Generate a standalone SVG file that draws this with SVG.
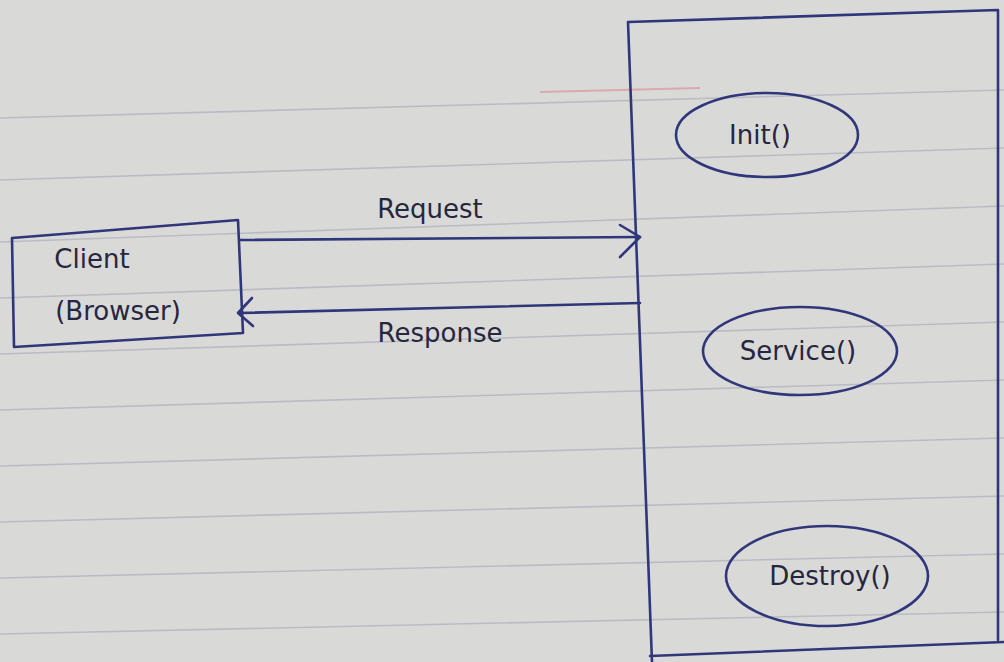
<svg xmlns="http://www.w3.org/2000/svg" width="1004" height="662" viewBox="0 0 1004 662">
<style>
.ink{fill:none;stroke:#30367a;stroke-width:2.6;stroke-linecap:round;stroke-linejoin:round}
.rule{stroke:#b9bcc3;stroke-width:1.6}
.lbl{font-family:"DejaVu Sans","Liberation Sans",sans-serif;fill:#26263f;font-size:26px}
</style>
<rect width="1004" height="662" fill="#d9d9d7"/>
<g id="paper-rules">
<line class="rule" x1="0" y1="118" x2="1004" y2="90"/>
<line class="rule" x1="0" y1="180" x2="1004" y2="148"/>
<line class="rule" x1="0" y1="242" x2="1004" y2="206"/>
<line class="rule" x1="0" y1="298" x2="1004" y2="264"/>
<line class="rule" x1="0" y1="354" x2="1004" y2="322"/>
<line class="rule" x1="0" y1="410" x2="1004" y2="380"/>
<line class="rule" x1="0" y1="466" x2="1004" y2="438"/>
<line class="rule" x1="0" y1="522" x2="1004" y2="496"/>
<line class="rule" x1="0" y1="578" x2="1004" y2="554"/>
<line class="rule" x1="0" y1="634" x2="1004" y2="612"/>
<line x1="540" y1="92" x2="700" y2="88" stroke="#d9a9ad" stroke-width="2"/>
</g>
<g id="connectors">
<line class="ink" x1="240" y1="240" x2="640" y2="237"/>
<polyline class="ink" points="620,225 640,237 620,257"/>
<line class="ink" x1="640" y1="303" x2="240" y2="313"/>
<polyline class="ink" points="252,298 238,313 253,326"/>
<text class="lbl" x="430" y="218" text-anchor="middle">Request</text>
<text class="lbl" x="440" y="342" text-anchor="middle">Response</text>
</g>
<g id="client">
<polygon class="ink" points="12,238 238,220 243,333 14,347"/>
<text class="lbl" x="92" y="268" text-anchor="middle">Client</text>
<text class="lbl" x="118" y="320" text-anchor="middle">(Browser)</text>
</g>
<g id="server">
<polyline class="ink" points="652,662 628,22 998,10 998,640"/>
<line class="ink" x1="650" y1="656" x2="1004" y2="642"/>
</g>
<g id="init">
<ellipse class="ink" cx="767" cy="135" rx="91" ry="42"/>
<text class="lbl" x="760" y="144" text-anchor="middle">Init()</text>
</g>
<g id="service">
<ellipse class="ink" cx="800" cy="351" rx="97" ry="44"/>
<text class="lbl" x="798" y="360" text-anchor="middle">Service()</text>
</g>
<g id="destroy">
<ellipse class="ink" cx="827" cy="576" rx="101" ry="50"/>
<text class="lbl" x="830" y="585" text-anchor="middle">Destroy()</text>
</g>
</svg>
